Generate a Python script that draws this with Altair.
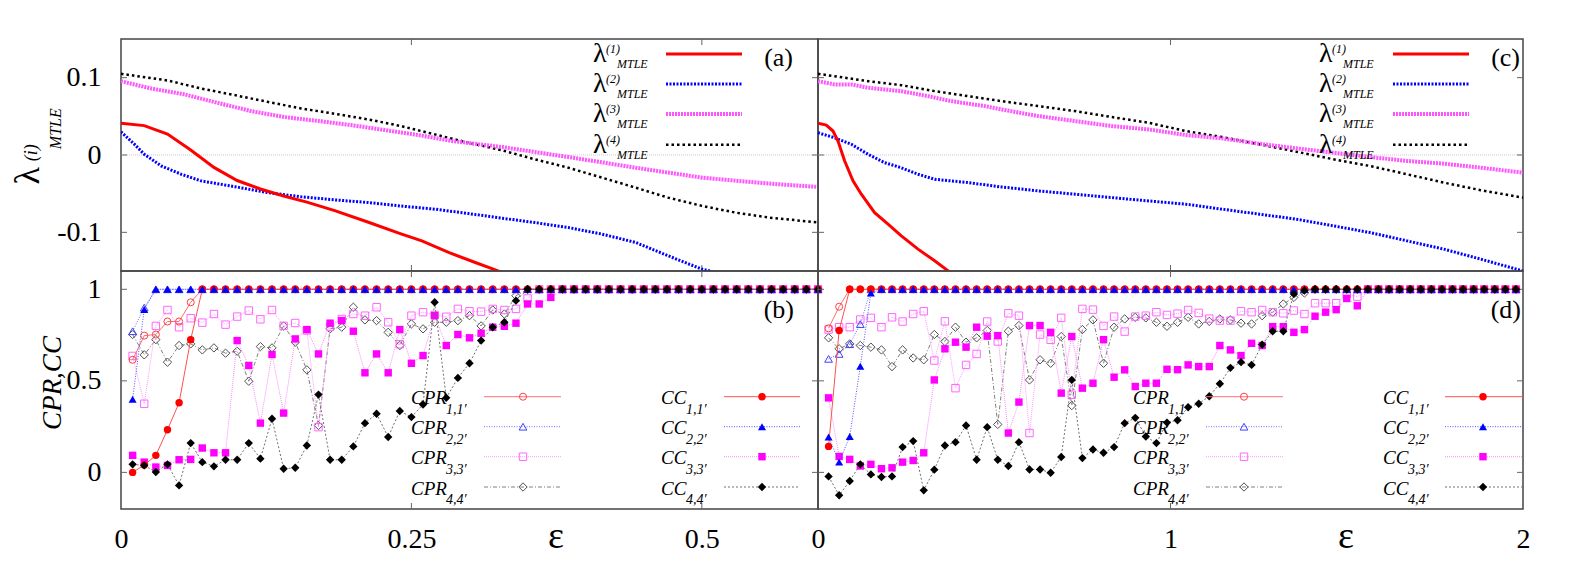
import altair as alt
import pandas as pd

FONT = "'Liberation Serif', 'Times New Roman', 'DejaVu Serif', serif"

# ---------------- panel (a): lambda^(i)_MTLE, eps in [0, 0.6] ----------------
A_L1_X = [0.0, 0.02, 0.04, 0.06, 0.08, 0.10, 0.12, 0.14, 0.16, 0.184, 0.213, 0.241, 0.259, 0.282, 0.305, 0.325, 0.34]
A_L1_Y = [0.041, 0.038, 0.027, 0.0065, -0.016, -0.033, -0.044, -0.053, -0.061, -0.072, -0.087, -0.102, -0.111, -0.126, -0.139, -0.150, -0.162]
A_L2_X = [0.0, 0.0115, 0.02, 0.0345, 0.052, 0.069, 0.098, 0.126, 0.155, 0.184, 0.213, 0.241, 0.270, 0.299, 0.328, 0.356, 0.385, 0.414, 0.443, 0.471, 0.489, 0.50, 0.507, 0.52]
A_L2_Y = [0.030, 0.014, 0.001, -0.014, -0.025, -0.0335, -0.041, -0.0486, -0.054, -0.058, -0.0615, -0.066, -0.070, -0.0757, -0.0817, -0.0873, -0.0938, -0.1023, -0.1131, -0.1303, -0.1411, -0.1475, -0.150, -0.158]
A_L3_X = [0.0, 0.0115, 0.026, 0.055, 0.083, 0.112, 0.141, 0.170, 0.198, 0.227, 0.256, 0.285, 0.328, 0.385, 0.443, 0.50, 0.558, 0.60]
A_L3_Y = [0.0955, 0.0912, 0.086, 0.0783, 0.0675, 0.0568, 0.049, 0.0439, 0.0387, 0.0323, 0.0258, 0.0181, 0.0103, -0.0026, -0.0164, -0.0293, -0.037, -0.0413]
A_L4_X = [0.0, 0.04, 0.069, 0.098, 0.126, 0.155, 0.184, 0.213, 0.241, 0.270, 0.299, 0.328, 0.356, 0.385, 0.414, 0.443, 0.471, 0.50, 0.529, 0.558, 0.60]
A_L4_Y = [0.105, 0.0964, 0.086, 0.0774, 0.0688, 0.0602, 0.0533, 0.046, 0.0374, 0.0267, 0.0159, 0.0061, -0.0055, -0.0164, -0.0293, -0.0422, -0.0551, -0.0658, -0.0745, -0.0809, -0.0873]

# ---------------- panel (c): lambda^(i)_MTLE, eps in [0, 2] ----------------
C_L1_X = [0.0, 0.0235, 0.0426, 0.0567, 0.0757, 0.0993, 0.1229, 0.1607, 0.1986, 0.2364, 0.2837, 0.3309, 0.3688, 0.39]
C_L1_Y = [0.041, 0.0387, 0.031, 0.0181, -0.0077, -0.0335, -0.0507, -0.0745, -0.0895, -0.1045, -0.1217, -0.1368, -0.1497, -0.162]
C_L2_X = [0.0, 0.047, 0.095, 0.142, 0.189, 0.236, 0.284, 0.331, 0.426, 0.520, 0.583, 0.625, 0.729, 0.834, 0.938, 1.043, 1.147, 1.252, 1.357, 1.462, 1.566, 1.671, 1.775, 1.880, 1.998]
C_L2_Y = [0.0288, 0.0223, 0.0138, 0.0009, -0.0099, -0.0164, -0.0249, -0.0314, -0.0357, -0.0413, -0.0443, -0.0465, -0.0507, -0.0551, -0.0594, -0.0636, -0.0701, -0.0765, -0.083, -0.0916, -0.1003, -0.111, -0.1217, -0.1346, -0.1497]
C_L3_X = [0.0, 0.047, 0.095, 0.142, 0.189, 0.236, 0.312, 0.378, 0.473, 0.520, 0.625, 0.729, 0.834, 0.938, 1.043, 1.147, 1.252, 1.357, 1.462, 1.566, 1.671, 1.775, 1.880, 2.0]
C_L3_Y = [0.0955, 0.0912, 0.0912, 0.0869, 0.0848, 0.0826, 0.0761, 0.0697, 0.0632, 0.059, 0.0503, 0.0439, 0.0374, 0.0331, 0.0258, 0.0215, 0.0146, 0.0086, 0.003, -0.0026, -0.0077, -0.0112, -0.0164, -0.0228]
C_L4_X = [0.0, 0.142, 0.236, 0.331, 0.426, 0.520, 0.625, 0.729, 0.834, 0.938, 1.043, 1.147, 1.252, 1.357, 1.462, 1.566, 1.671, 1.775, 1.880, 2.0]
C_L4_Y = [0.105, 0.0955, 0.0903, 0.0826, 0.0761, 0.0697, 0.0632, 0.0568, 0.049, 0.0417, 0.031, 0.0232, 0.0138, 0.0043, -0.0055, -0.0142, -0.0249, -0.0357, -0.0455, -0.0551]

# ---------------- panel (b): CPR, CC, eps = 0.01 ... 0.60 ----------------
B_EPS = [i / 100 for i in range(1, 61)]
B_CPR1 = [0.615, 0.747, 0.753, 0.824, 0.824, 0.929, 1.0] + [1.0] * 53
B_CC1 = [0.0, 0.04, 0.093, 0.233, 0.38, 0.725, 1.0] + [1.0] * 53
B_CPR2 = [0.771, 0.90] + [1.0] * 58
B_CC2 = [0.40, 0.89] + [1.0] * 58
B_CPR3 = [0.636, 0.375, 0.80, 0.887, 0.793, 0.842, 0.818, 0.865, 0.807, 0.851,
          0.884, 0.836, 0.887, 0.80, 0.816, 0.775, 0.247, 0.796, 0.838, 0.865,
          0.856, 0.902, 0.82, 0.70, 0.856, 0.875, 0.86, 0.85, 0.893, 0.88,
          0.878, 0.893, 0.887, 0.893, 0.95] + [1.0] * 25
B_CC3 = [0.093, 0.056, 0.029, 0.038, 0.069, 0.071, 0.133, 0.107, 0.107, 0.72,
         0.584, 0.269, 0.644, 0.324, 0.729, 0.78, 0.647, 0.815, 0.829, 0.771,
         0.544, 0.647, 0.544, 0.78, 0.596, 0.638, 0.856, 0.693, 0.753, 0.735,
         0.76, 0.793, 0.798, 0.815, 0.92, 0.92, 0.956] + [1.0] * 23
B_CPR4 = [0.753, 0.642, 0.725, 0.602, 0.693, 0.702, 0.669, 0.68, 0.651, 0.662,
          0.498, 0.687, 0.68, 0.80, 0.711, 0.56, 0.256, 0.784, 0.793, 0.902,
          0.833, 0.829, 0.765, 0.693, 0.811, 0.784, 0.82, 0.82, 0.829, 0.856,
          0.80, 0.887, 0.865, 0.965] + [1.0] * 26
B_CC4 = [0.044, 0.038, 0.002, 0.044, -0.071, 0.16, 0.056, 0.033, 0.069, 0.069,
         0.16, 0.075, 0.293, 0.02, 0.025, 0.147, 0.425, 0.069, 0.069, 0.142,
         0.269, 0.32, 0.193, 0.335, 0.302, 0.371, 0.929, 0.407, 0.516, 0.596,
         0.72, 0.793, 0.82, 0.938, 1.0] + [1.0] * 25

# ---------------- panel (d): CPR, CC, eps = 0.03 ... 1.98 ----------------
D_EPS = [round(0.03 * i, 2) for i in range(1, 67)]
D_CPR1 = [0.787, 0.905] + [1.0] * 64
D_CC1 = [0.142, 0.775] + [1.0] * 64
D_CPR2 = [0.62, 0.647, 0.70, 0.81] + [1.0] * 62
D_CC2 = [0.193, 0.056, 0.196, 0.58, 0.98] + [1.0] * 61
D_CPR3 = [0.78, 0.793, 0.793, 0.835, 0.844, 0.793, 0.847, 0.824, 0.865, 0.88,
          0.611, 0.825, 0.46, 0.587, 0.647, 0.824, 0.715, 0.869, 0.856, 0.215,
          0.753, 0.724, 0.844, 0.424, 0.893, 0.889, 0.80, 0.851, 0.769, 0.851,
          0.856, 0.875, 0.86, 0.867, 0.887, 0.871, 0.84, 0.829, 0.829, 0.88,
          0.875, 0.887, 0.875, 0.869, 0.884, 0.865, 0.924, 0.924, 0.924, 0.975,
          0.96] + [1.0] * 15
D_CC3 = [0.407, 0.087, 0.071, 0.035, 0.044, 0.02, 0.025, 0.056, 0.065, 0.107,
         0.505, 0.675, 0.711, 0.684, 0.793, 0.744, 0.747, 0.215, 0.384, 0.802,
         0.802, 0.765, 0.433, 0.742, 0.46, 0.487, 0.725, 0.52, 0.56, 0.469,
         0.487, 0.487, 0.563, 0.561, 0.587, 0.578, 0.578, 0.693, 0.669, 0.638,
         0.705, 0.693, 0.796, 0.796, 0.765, 0.78, 0.853, 0.875, 0.889, 0.95,
         0.91] + [1.0] * 15
D_CPR4 = [0.735, 0.675, 0.702, 0.693, 0.684, 0.669, 0.578, 0.669, 0.625, 0.615,
          0.753, 0.715, 0.793, 0.711, 0.735, 0.775, 0.262, 0.771, 0.802, 0.505,
          0.615, 0.596, 0.742, 0.365, 0.78, 0.833, 0.596, 0.793, 0.838, 0.847,
          0.844, 0.82, 0.798, 0.82, 0.847, 0.811, 0.825, 0.838, 0.833, 0.815,
          0.811, 0.856, 0.875, 0.92, 0.956, 0.98] + [1.0] * 20
D_CC4 = [-0.022, -0.125, -0.047, 0.044, -0.011, -0.025, -0.022, 0.138, 0.171, -0.098,
         0.015, 0.147, 0.165, 0.256, 0.069, 0.247, 0.069, 0.035, 0.165, 0.016,
         0.016, -0.002, 0.084, 0.505, 0.078, 0.125, 0.107, 0.138, 0.269, 0.298,
         0.196, 0.16, 0.272, 0.285, 0.356, 0.375, 0.416, 0.484, 0.571, 0.602,
         0.587, 0.698, 0.771, 0.771, 0.975, 0.993] + [1.0] * 20

W1, W2, H1, H2 = 697, 705, 232, 238
ONE = pd.DataFrame({"k": [0]})
TICK = "#666666"


def txt(s, x, y, size, italic=False, angle=0, align="left", baseline="alphabetic"):
    return alt.Chart(ONE).mark_text(
        text=s, font=FONT, fontSize=size, fontStyle="italic" if italic else "normal",
        angle=angle, align=align, baseline=baseline, color="black"
    ).encode(x=alt.value(x), y=alt.value(y))


def line_kw(color, width, dash):
    kw = dict(color=color, strokeWidth=width, strokeCap="butt")
    if dash:
        kw["strokeDash"] = dash
    return kw


def inner_ticks(X, Y, W, H, xv, yv):
    xt = pd.DataFrame({"x": xv})
    yt = pd.DataFrame({"y": yv})
    k = dict(color=TICK, strokeWidth=1)
    return [
        alt.Chart(xt).mark_rule(**k).encode(x=X, y=alt.value(H), y2=alt.value(H - 6)),
        alt.Chart(xt).mark_rule(**k).encode(x=X, y=alt.value(0), y2=alt.value(6)),
        alt.Chart(yt).mark_rule(**k).encode(y=Y, x=alt.value(0), x2=alt.value(6)),
        alt.Chart(yt).mark_rule(**k).encode(y=Y, x=alt.value(W), x2=alt.value(W - 6)),
    ]


def axis(values, expr, pad):
    return alt.Axis(values=values, labelExpr=expr, domain=False, ticks=False, tickSize=0,
                    grid=False, labelPadding=pad, labelFont=FONT, labelFontSize=28,
                    labelColor="black", labelFlush=False, labelOverlap=False, title=None)


TOP_STY = {
    1: ("#ff0000", 3, None),
    2: ("#0000ff", 3, [2, 1.5]),
    3: ("#ff55ff", 4, [2, 1]),
    4: ("#000000", 2.5, [2.5, 3]),
}
TOP_ROWS = [15, 45, 75, 105.7]


def top_panel(series, W, xdom, xticks, lx, lx1, lx2, label, label_rx, yaxis, extra):
    X = alt.X("x:Q", scale=alt.Scale(domain=xdom, nice=False, zero=False), axis=None)
    Y = alt.Y("y:Q", scale=alt.Scale(domain=[-0.15, 0.15], nice=False, zero=False), axis=yaxis)
    layers = [
        alt.Chart(pd.DataFrame({"y": [0.0]})).mark_rule(
            color="#bbbbbb", strokeWidth=0.8, strokeDash=[1, 1]
        ).encode(y=Y, x=alt.value(0), x2=alt.value(W))
    ]
    layers += inner_ticks(X, Y, W, H1, xticks, [-0.1, 0.0, 0.1])
    for k in [4, 3, 2, 1]:
        xs, ys = series[k]
        c, w, d = TOP_STY[k]
        layers.append(alt.Chart(pd.DataFrame({"x": xs, "y": ys})).mark_line(
            clip=True, **line_kw(c, w, d)).encode(x=X, y=Y))
    for k in [1, 2, 3, 4]:
        r = TOP_ROWS[k - 1]
        c, w, d = TOP_STY[k]
        layers.append(txt("λ", lx, r + 8.4, 28))
        layers.append(txt("(%d)" % k, lx + 13, r - 1, 12, italic=True))
        layers.append(txt("MTLE", lx + 24, r + 14, 12, italic=True))
        layers.append(alt.Chart(ONE).mark_rule(**line_kw(c, w, d)).encode(
            x=alt.value(lx1), x2=alt.value(lx2), y=alt.value(r)))
    layers.append(txt(label, label_rx, 26.5, 26, align="right"))
    layers += extra
    return alt.layer(*layers).properties(width=W, height=H1)


BOT_STY = {
    "CPR1": dict(lc="#ff7070", dash=None, shape="circle", filled=False, mc="#ff4040", size=50),
    "CPR2": dict(lc="#7070ff", dash=[1, 1.5], shape="triangle-up", filled=False, mc="#4040ff", size=60),
    "CPR3": dict(lc="#ff99ff", dash=[1, 1], shape="square", filled=False, mc="#ff66ff", size=55),
    "CPR4": dict(lc="#808080", dash=[4, 2, 1, 2], shape="diamond", filled=False, mc="#505050", size=70),
    "CC1": dict(lc="#ff5050", dash=None, shape="circle", filled=True, mc="#ff0000", size=55),
    "CC2": dict(lc="#5050ff", dash=[1, 1.5], shape="triangle-up", filled=True, mc="#0000ff", size=65),
    "CC3": dict(lc="#ff88ff", dash=[1, 1], shape="square", filled=True, mc="#ff00ff", size=55),
    "CC4": dict(lc="#707070", dash=[2, 2], shape="diamond", filled=True, mc="#000000", size=70),
}
BOT_ROWS = [125.7, 155.7, 185.7, 216]


def marker(st):
    return dict(shape=st["shape"], filled=st["filled"], color=st["mc"], size=st["size"],
                strokeWidth=1, opacity=1)


def bottom_panel(eps, data, W, xdom, xaxis, yaxis, xticks, leg, label, label_rx, eps_x, extra):
    X = alt.X("x:Q", scale=alt.Scale(domain=xdom, nice=False, zero=False), axis=xaxis)
    Y = alt.Y("y:Q", scale=alt.Scale(domain=[-0.2, 1.1], nice=False, zero=False), axis=yaxis)
    layers = inner_ticks(X, Y, W, H2, xticks, [0.0, 0.5, 1.0])
    for name in ["CPR4", "CPR3", "CPR2", "CPR1", "CC3", "CC1", "CC2", "CC4"]:
        st = BOT_STY[name]
        df = pd.DataFrame({"x": eps, "y": data[name]})
        layers.append(alt.Chart(df).mark_line(**line_kw(st["lc"], 1, st["dash"])).encode(x=X, y=Y))
        layers.append(alt.Chart(df).mark_point(**marker(st)).encode(x=X, y=Y))
    cpr_x, cpr_l1, cpr_l2, cpr_m, cc_x, cc_l1, cc_l2, cc_m = leg
    for k in [1, 2, 3, 4]:
        r = BOT_ROWS[k - 1]
        sub = "%d,%d′" % (k, k)
        for nm, tx, l1, l2, mx, off in [("CPR", cpr_x, cpr_l1, cpr_l2, cpr_m, 35),
                                         ("CC", cc_x, cc_l1, cc_l2, cc_m, 25)]:
            st = BOT_STY["%s%d" % (nm, k)]
            layers.append(txt(nm, tx, r + 7.6, 19, italic=True))
            layers.append(txt(sub, tx + off, r + 17, 14, italic=True))
            layers.append(alt.Chart(ONE).mark_rule(**line_kw(st["lc"], 1, st["dash"])).encode(
                x=alt.value(l1), x2=alt.value(l2), y=alt.value(r)))
            layers.append(alt.Chart(ONE).mark_point(**marker(st)).encode(
                x=alt.value(mx), y=alt.value(r)))
    layers.append(txt(label, label_rx, 47, 26, align="right"))
    layers.append(txt("ε", eps_x, 277, 38, align="center"))
    layers += extra
    return alt.layer(*layers).properties(width=W, height=H2)


yaxis_a = axis([-0.1, 0.0, 0.1], "datum.value < -0.05 ? '-0.1' : (datum.value > 0.05 ? '0.1' : '0')", 20)
yaxis_b = axis([0.0, 0.5, 1.0], "datum.value > 0.75 ? '1' : (datum.value > 0.25 ? '0.5' : '0')", 20)
xaxis_b = axis([0.0, 0.25, 0.5], "datum.value > 0.4 ? '0.5' : (datum.value > 0.1 ? '0.25' : '0')", 16)
xaxis_d = axis([0.0, 1.0, 2.0], "datum.value > 1.5 ? '2' : (datum.value > 0.5 ? '1' : '0')", 16)

anchor = alt.Chart(ONE).mark_rule(strokeOpacity=0, color="white").encode(
    x=alt.value(-112), x2=alt.value(-112), y=alt.value(-30), y2=alt.value(-29))
ytitle_a = [
    txt("λ", -82, 136.7, 36, angle=270, align="center"),
    txt("(i)", -84, 113.7, 18, italic=True, angle=270, align="center"),
    txt("MTLE", -60, 89.7, 16, italic=True, angle=270, align="center"),
    anchor,
]
ytitle_b = [txt("CPR,CC", -60, 112, 27, italic=True, angle=270, align="center")]

panel_a = top_panel({1: (A_L1_X, A_L1_Y), 2: (A_L2_X, A_L2_Y), 3: (A_L3_X, A_L3_Y), 4: (A_L4_X, A_L4_Y)},
                    W1, [0, 0.6], [0.25, 0.5], 472, 545, 621, "(a)", 672, yaxis_a, ytitle_a)
panel_c = top_panel({1: (C_L1_X, C_L1_Y), 2: (C_L2_X, C_L2_Y), 3: (C_L3_X, C_L3_Y), 4: (C_L4_X, C_L4_Y)},
                    W2, [0, 2], [1.0], 501, 575, 651, "(c)", 702, None, [])
panel_b = bottom_panel(B_EPS, {"CPR1": B_CPR1, "CC1": B_CC1, "CPR2": B_CPR2, "CC2": B_CC2,
                               "CPR3": B_CPR3, "CC3": B_CC3, "CPR4": B_CPR4, "CC4": B_CC4},
                       W1, [0, 0.6], xaxis_b, yaxis_b, [0.25, 0.5],
                       (290, 363, 440, 402, 540, 603, 679, 641), "(b)", 673, 435, ytitle_b)
panel_d = bottom_panel(D_EPS, {"CPR1": D_CPR1, "CC1": D_CC1, "CPR2": D_CPR2, "CC2": D_CC2,
                               "CPR3": D_CPR3, "CC3": D_CC3, "CPR4": D_CPR4, "CC4": D_CC4},
                       W2, [0, 2], xaxis_d, None, [1.0],
                       (315, 388, 465, 426, 565, 627, 705, 665), "(d)", 703, 528, [])

chart = alt.concat(panel_a, panel_c, panel_b, panel_d, columns=2, spacing=0,
                   bounds="flush", align="each").properties(padding=0).configure_view(
    stroke="#444444", strokeWidth=1.5)

chart.save("out.html", embed_options={"renderer": "svg", "actions": False})
